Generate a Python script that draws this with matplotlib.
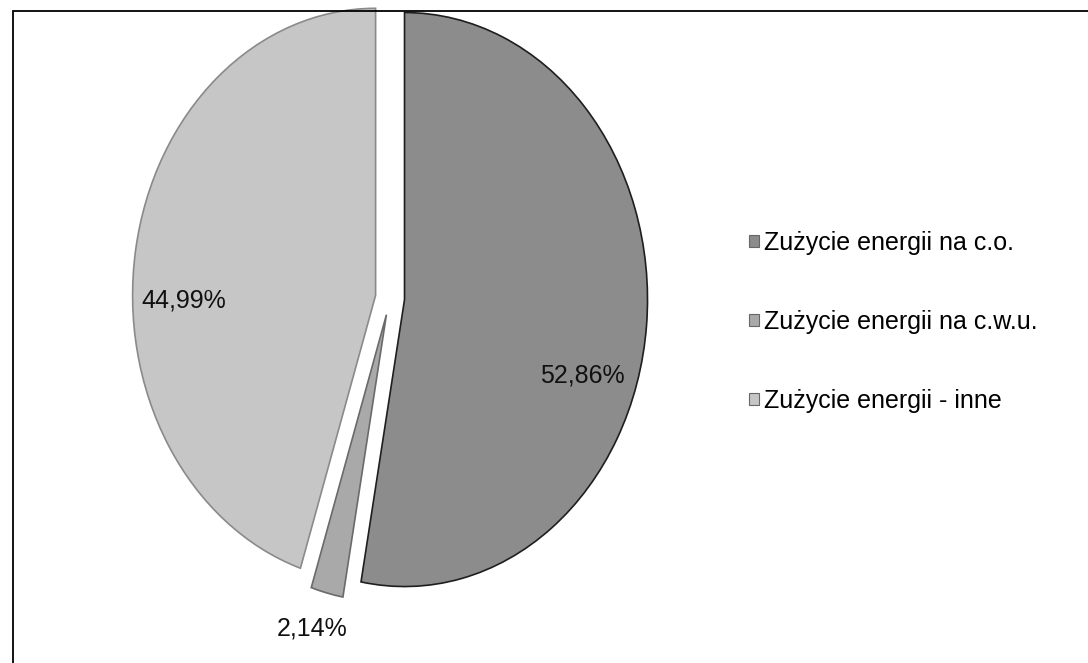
import matplotlib.pyplot as plt
from matplotlib.patches import Rectangle

plt.rcParams['font.family'] = ['Liberation Sans', 'DejaVu Sans']

# Data
labels = ['Zużycie energii na c.o.', 'Zużycie energii na c.w.u.', 'Zużycie energii - inne']
values = [52.86, 2.14, 44.99]
pct_text = ['52,86%', '2,14%', '44,99%']
colors = ['#8c8c8c', '#a9a9a9', '#c6c6c6']
edges = ['#1e1e1e', '#6a6a6a', '#8a8a8a']
# label placement (x, y in pie radius units)
label_pos = [(0.79, -0.27), (-0.32, -1.15), (-0.85, -0.01)]

W, H = 1088, 663
fig = plt.figure(figsize=(W / 100, H / 100), dpi=100)

# outer frame of the scanned chart (only top and left edges visible)
fig.add_artist(Rectangle((13 / W, -0.1), 1.2, 1.1 - 11 / H, transform=fig.transFigure,
                         fill=False, edgecolor='black', linewidth=1.3))

# pie centre and radii in pixels (scan is stretched vertically)
cx, cy, rx, ry = 390, 298, 243, 287
xl, yl = 1.5, 1.2
ax = fig.add_axes([(cx - xl * rx) / W, (H - cy - yl * ry) / H, 2 * xl * rx / W, 2 * yl * ry / H])

wedges, _ = ax.pie(values, colors=colors, startangle=90, counterclock=False,
                   explode=[0.06, 0.06, 0.06],
                   wedgeprops=dict(linewidth=1.2))
for w, ec in zip(wedges, edges):
    w.set_edgecolor(ec)
ax.set_aspect('auto')
ax.set_xlim(-xl, xl)
ax.set_ylim(-yl, yl)
ax.axis('off')

for (x, y), t in zip(label_pos, pct_text):
    ax.text(x, y, t, ha='center', va='center', fontsize=18, color='#111111')

leg = fig.legend(wedges, labels, loc='center left', bbox_to_anchor=(726 / W, 1 - 322 / H),
                 frameon=False, fontsize=18, handlelength=0.4, handleheight=0.4,
                 handletextpad=0.2, labelspacing=2.2)
for h in leg.legend_handles:
    h.set_edgecolor('#666666')
    h.set_linewidth(0.8)

plt.savefig('out.png', dpi=100)
